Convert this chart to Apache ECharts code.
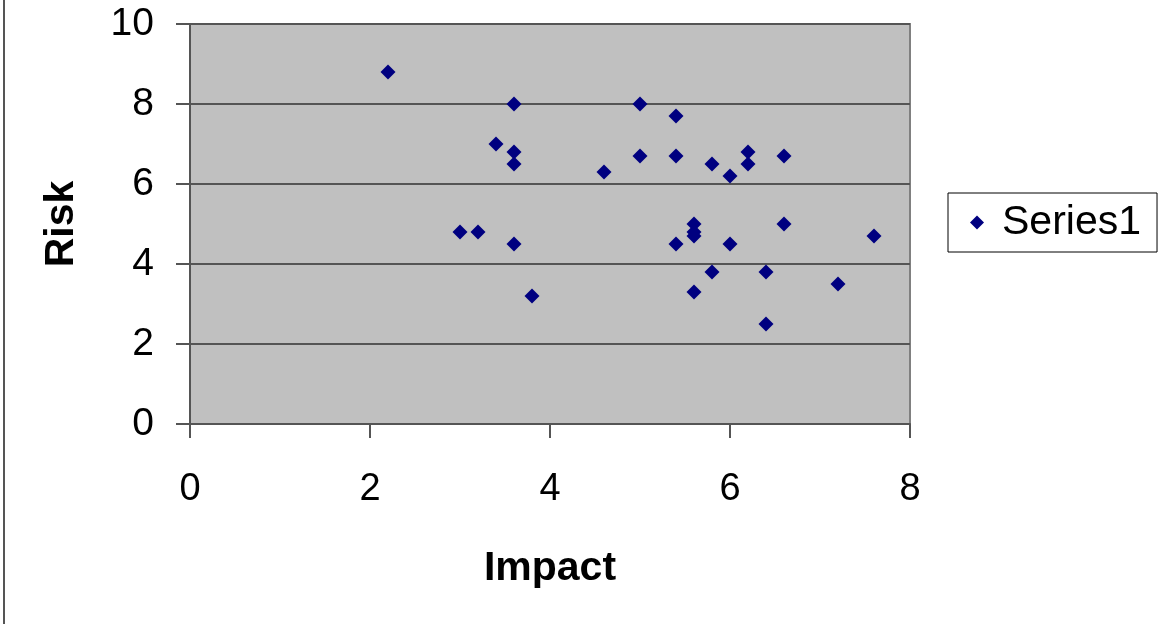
<!DOCTYPE html>
<html>
<head>
<meta charset="utf-8">
<script src="https://cdn.jsdelivr.net/npm/echarts@6/dist/echarts.min.js"></script>
<style>
html,body{margin:0;padding:0;background:#fff;}
#c{width:1166px;height:624px;}
</style>
</head>
<body>
<div id="c"></div>
<script>
var seriesName = 'Series1';
var impact = [2.2, 3.6, 5.0, 3.4, 3.6, 3.6, 5.0, 4.6, 3.0, 3.2, 3.6, 3.8, 5.4, 5.4, 5.8, 6.2, 6.2, 6.0, 6.6, 5.6, 5.6, 5.6, 5.4, 6.0, 6.6, 7.6, 5.8, 6.4, 5.6, 7.2, 6.4];
var risk   = [8.8, 8.0, 8.0, 7.0, 6.8, 6.5, 6.7, 6.3, 4.8, 4.8, 4.5, 3.2, 7.7, 6.7, 6.5, 6.8, 6.5, 6.2, 6.7, 5.0, 4.8, 4.7, 4.5, 4.5, 5.0, 4.7, 3.8, 3.8, 3.3, 3.5, 2.5];
var xTicks = [0, 2, 4, 6, 8];
var yTicks = [0, 2, 4, 6, 8, 10];

var points = impact.map(function (v, i) { return [v, risk[i]]; });
var font = '"Liberation Sans", Arial, sans-serif';
var chart = echarts.init(document.getElementById('c'));
chart.setOption({
  animation: false,
  backgroundColor: '#ffffff',
  grid: {
    left: 190, top: 24, width: 720, height: 400,
    show: true, backgroundColor: '#c0c0c0', borderColor: '#808080', borderWidth: 2
  },
  legend: {
    show: true,
    left: 948, top: 193,
    orient: 'vertical',
    backgroundColor: '#ffffff',
    borderColor: '#000000', borderWidth: 1,
    padding: [9, 16, 9, 22],
    itemWidth: 14, itemHeight: 14, itemGap: 0,
    textStyle: { fontFamily: font, fontSize: 41, color: '#000', padding: [0, 0, 0, 13] },
    data: [{ name: seriesName, icon: 'diamond' }]
  },
  xAxis: {
    type: 'value', min: xTicks[0], max: xTicks[xTicks.length - 1], interval: 2,
    name: 'Impact', nameLocation: 'middle', nameGap: 124,
    nameTextStyle: { fontFamily: font, fontSize: 41, fontWeight: 'bold', color: '#000' },
    axisLine: { show: true, onZero: false, lineStyle: { color: '#555555', width: 2 } },
    axisTick: { show: true, inside: false, length: 14, lineStyle: { color: '#555555', width: 2 } },
    axisLabel: { fontFamily: font, fontSize: 38, color: '#000', margin: 47 },
    splitLine: { show: false }
  },
  yAxis: {
    type: 'value', min: yTicks[0], max: yTicks[yTicks.length - 1], interval: 2,
    name: 'Risk', nameLocation: 'middle', nameGap: 108, nameRotate: 90,
    nameTextStyle: { fontFamily: font, fontSize: 41, fontWeight: 'bold', color: '#000' },
    axisLine: { show: true, onZero: false, lineStyle: { color: '#555555', width: 2 } },
    axisTick: { show: true, inside: false, length: 14, lineStyle: { color: '#555555', width: 2 } },
    axisLabel: { fontFamily: font, fontSize: 39, color: '#000', margin: 36, padding: [12, 0, 0, 0] },
    splitLine: { show: true, lineStyle: { color: '#555555', width: 2 } }
  },
  series: [{
    name: seriesName,
    type: 'scatter',
    symbol: 'diamond',
    symbolSize: 15,
    itemStyle: { color: '#000080', opacity: 1 },
    data: points
  }],
  graphic: [{
    type: 'line', shape: { x1: 4, y1: 0, x2: 4, y2: 624 },
    style: { stroke: '#555555', lineWidth: 2 }, silent: true
  }]
});
</script>
</body>
</html>
